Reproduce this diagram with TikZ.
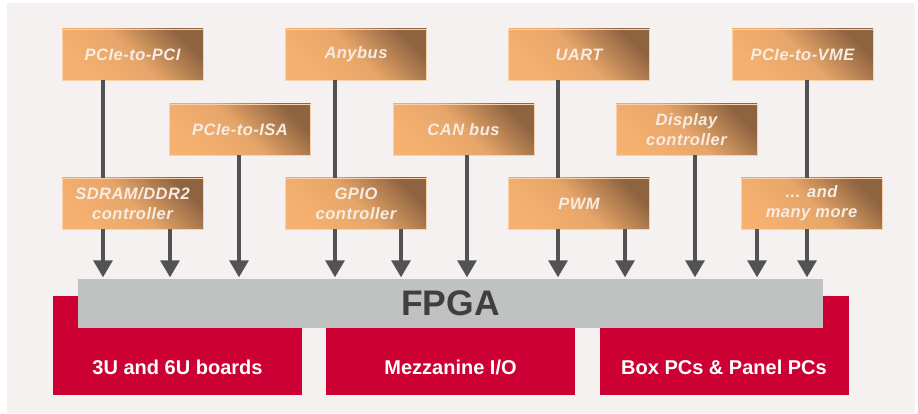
\documentclass[tikz,border=0pt]{standalone}
\usepackage{fontspec}
\setmainfont{Liberation Sans}
\newfontfamily\ofont[LetterSpace=3]{Liberation Sans}
\usetikzlibrary{arrows.meta}
\definecolor{bgc}{HTML}{F4F1F0}
\definecolor{olight}{HTML}{F6B170}
\definecolor{odark}{HTML}{8E6340}
\definecolor{redc}{HTML}{CC0033}
\definecolor{grayc}{HTML}{C0C1C1}
\definecolor{linec}{HTML}{525252}
\definecolor{fpgatext}{HTML}{3F3F3F}
\definecolor{otext}{HTML}{F6ECE4}
\tikzset{
  obox/.style={shade, shading=axis, top color=odark, bottom color=olight,
    middle color=olight!85!odark, shading angle=-45,
    draw=olight!60!white, line width=0.5pt,
    minimum width=141pt, minimum height=51pt, inner sep=0pt,
    text=otext, align=center,
    font=\ofont\fontsize{16.5}{20}\selectfont\bfseries\itshape},
  redbox/.style={fill=redc, draw=none, minimum width=249pt, minimum height=99pt, inner sep=0pt},
  redtext/.style={text=white, font=\fontsize{20}{22}\selectfont\bfseries, anchor=base, inner sep=0pt},
  vline/.style={draw=linec, line width=3.2pt},
  arr/.style={draw=linec, line width=3.2pt, -{Triangle[width=19pt,length=17pt]}, shorten >=1.5pt}
}
\begin{document}
\begin{tikzpicture}[x=1pt,y=-1pt]
\useasboundingbox (0,0) rectangle (918,414);
\fill[white] (0,0) rectangle (918,414);
\fill[bgc] (7,3) rectangle (915,413);

% red boxes
\node[redbox] (r1) at (177.5,345.5) {};
\node[redbox] (r2) at (450.5,345.5) {};
\node[redbox] (r3) at (724,345.5) {};
\node[redtext] (t1) at (177.5,374) {3U and 6U boards};
\node[redtext] (t2) at (450.5,374) {Mezzanine I/O};
\node[redtext] (t3) at (724,374) {Box PCs \& Panel PCs};

% FPGA bar
\node[fill=grayc, minimum width=745pt, minimum height=49pt, inner sep=0pt,
  text=fpgatext, font=\fontsize{35.5}{40}\selectfont\bfseries] (fpga) at (450.5,303.5) {FPGA};

% orange boxes
\node[obox] (pci) at (132.5,54.5) {PCIe-to-PCI};
\node[obox] (any) at (356,54.5) {Anybus};
\node[obox] (uart) at (579,54.5) {UART};
\node[obox] (vme) at (802.5,54.5) {PCIe-to-VME};
\node[obox] (isa) at (240,129.5) {PCIe-to-ISA};
\node[obox] (can) at (463.5,129.5) {CAN bus};
\node[obox] (disp) at (686.5,129.5) {Display\\controller};
\node[obox] (sdram) at (132.5,203.5) {SDRAM/DDR2\\controller};
\node[obox] (gpio) at (356,203.5) {GPIO\\controller};
\node[obox] (pwm) at (579,203.5) {PWM};
\node[obox] (more) at (811.5,203.5) {... and\\many more};

% vertical connectors top to third row
\draw[vline] ([xshift=-29.5pt]pci.south) -- ([xshift=-29.5pt]pci.south |- sdram.north);
\draw[vline] ([xshift=-21pt]any.south) -- ([xshift=-21pt]any.south |- gpio.north);
\draw[vline] ([xshift=-21pt]uart.south) -- ([xshift=-21pt]uart.south |- pwm.north);
\draw[vline] ([xshift=4.5pt]vme.south) -- ([xshift=4.5pt]vme.south |- more.north);

% arrows into FPGA
\draw[arr] ([xshift=-29.5pt]sdram.south) -- ([xshift=-29.5pt]sdram.south |- fpga.north);
\draw[arr] ([xshift=37.5pt]sdram.south) -- ([xshift=37.5pt]sdram.south |- fpga.north);
\draw[arr] ([xshift=-1pt]isa.south) -- ([xshift=-1pt]isa.south |- fpga.north);
\draw[arr] ([xshift=-21pt]gpio.south) -- ([xshift=-21pt]gpio.south |- fpga.north);
\draw[arr] ([xshift=45pt]gpio.south) -- ([xshift=45pt]gpio.south |- fpga.north);
\draw[arr] ([xshift=3.5pt]can.south) -- ([xshift=3.5pt]can.south |- fpga.north);
\draw[arr] ([xshift=-21pt]pwm.south) -- ([xshift=-21pt]pwm.south |- fpga.north);
\draw[arr] ([xshift=46pt]pwm.south) -- ([xshift=46pt]pwm.south |- fpga.north);
\draw[arr] ([xshift=8.5pt]disp.south) -- ([xshift=8.5pt]disp.south |- fpga.north);
\draw[arr] ([xshift=-54.5pt]more.south) -- ([xshift=-54.5pt]more.south |- fpga.north);
\draw[arr] ([xshift=-4.5pt]more.south) -- ([xshift=-4.5pt]more.south |- fpga.north);
\end{tikzpicture}
\end{document}
